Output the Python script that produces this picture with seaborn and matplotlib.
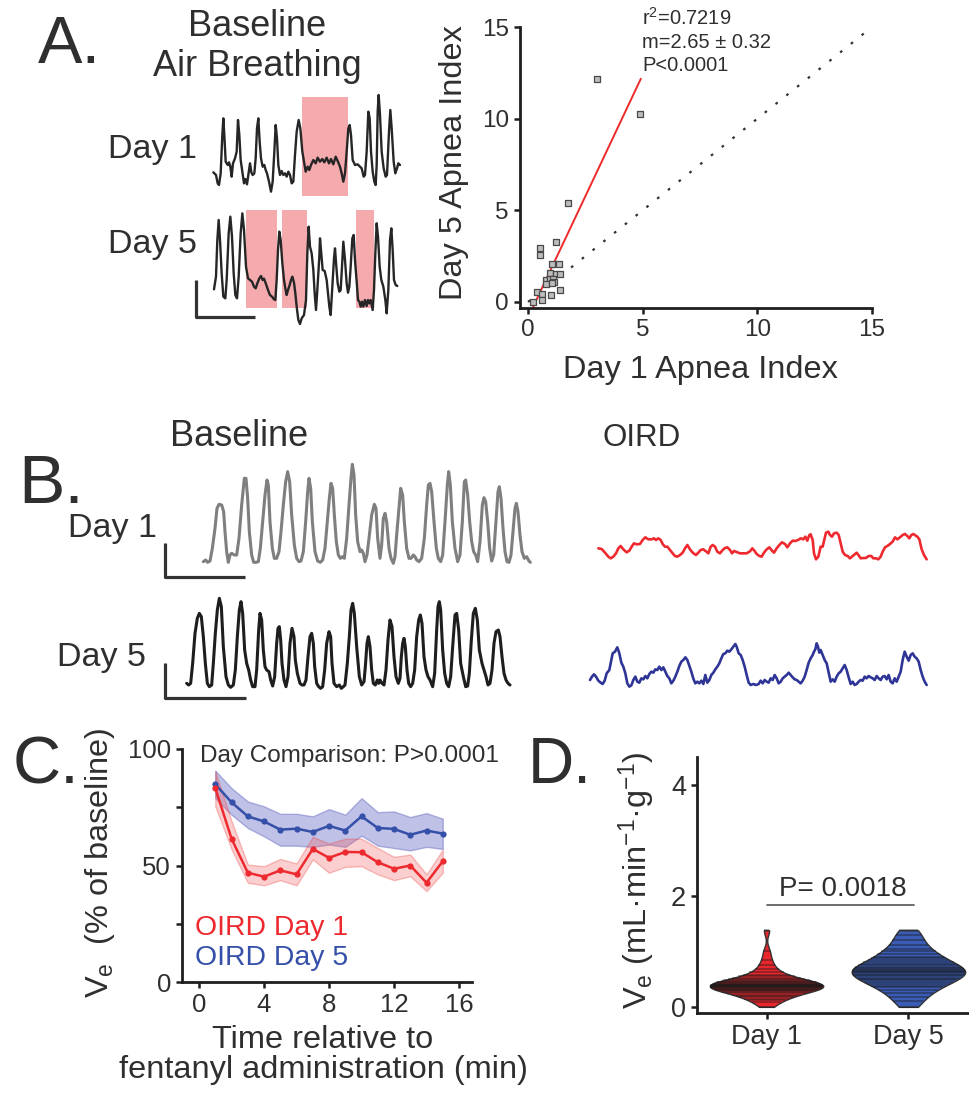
import numpy as np
import pandas as pd
import matplotlib
matplotlib.use("Agg")
import matplotlib.pyplot as plt
import seaborn as sns

# ---------------- data ----------------
# Panel A scatter (apnea index)
day1_apnea = [1.76, 1.21, 0.52, 0.52, 1.06, 1.35, 0.96, 1.21, 1.41, 0.78, 0.96, 1.10,
              1.15, 0.77, 1.03, 1.40, 1.00, 0.39, 0.61, 0.62, 0.22, 3.00, 4.88]
day5_apnea = [5.42, 3.26, 2.96, 2.56, 2.06, 2.06, 1.60, 1.53, 1.55, 1.20, 1.24, 1.27,
              1.11, 0.96, 1.05, 0.64, 0.38, 0.53, 0.42, 0.13, 0.00, 12.17, 10.24]
fit_slope = 2.65
fit_intercept = -0.86
fit_range = [0.2, 4.92]
stats_lines = ["r$^{2}$=0.7219", "m=2.65 \u00b1 0.32", "P<0.0001"]

# Panel A traces: (time sample, depth reading)
a_day1_trace = [(25,262),(33,270),(38,295),(42,300),(47,265),(52,150),(55,100),(58,150),(62,230),(68,240),(72,232),(76,245),(80,275),(84,235),(90,220),(95,200),(99,105),(103,150),(107,225),(112,260),(117,295),(121,282),(126,298),(130,270),(135,235),(139,262),(143,270),(148,265),(152,220),(156,130),(160,100),(164,170),(168,220),(173,245),(178,240),(182,255),(186,265),(192,290),(198,320),(203,290),(208,200),(212,120),(216,160),(220,240),(225,270),(230,258),(235,270),(240,265),(245,275),(250,260),(255,270),(260,295),(265,290),(270,210),(275,140),(281,105),(286,130),(292,200),(297,230),(302,260),(308,245),(313,255),(318,240),(325,225),(332,235),(338,218),(345,230),(352,222),(358,232),(365,218),(372,235),(378,222),(385,238),(392,215),(398,228),(405,245),(410,265),(415,290),(420,265),(425,200),(430,130),(434,120),(438,150),(443,225),(450,240),(458,238),(465,245),(470,250),(476,275),(480,270),(485,200),(490,80),(494,100),(498,200),(503,260),(508,290),(512,300),(515,240),(518,80),(521,30),(525,90),(530,200),(536,250),(542,275),(546,270),(552,140),(556,75),(560,130),(566,230),(571,265),(576,250),(580,235),(585,240)]
a_day1_apneas = [(290, 428)]
a_day5_trace = [(72,268),(78,230),(82,120),(86,60),(90,120),(95,220),(100,290),(106,295),(110,240),(116,100),(121,50),(126,110),(131,220),(136,285),(141,295),(146,230),(152,100),(157,40),(162,90),(168,200),(174,235),(180,240),(186,245),(192,260),(197,265),(202,250),(208,235),(213,228),(218,240),(222,236),(228,252),(234,270),(240,285),(246,290),(252,298),(256,300),(260,240),(264,150),(268,95),(272,120),(277,190),(282,240),(286,265),(290,285),(294,270),(299,255),(303,240),(307,230),(312,248),(316,280),(320,320),(325,360),(330,372),(335,355),(342,345),(348,300),(352,160),(356,80),(360,140),(365,160),(370,210),(374,280),(378,330),(382,270),(388,170),(390,115),(393,150),(398,210),(404,213),(410,240),(414,280),(418,320),(422,345),(427,260),(432,175),(435,145),(439,200),(443,250),(448,275),(452,270),(456,200),(460,125),(465,180),(470,250),(474,278),(478,260),(482,200),(487,115),(491,105),(495,180),(500,245),(504,300),(508,305),(512,320),(516,305),(520,320),(525,300),(530,318),(534,300),(538,310),(542,300),(548,330),(552,270),(556,160),(560,70),(564,110),(569,200),(574,240),(580,260),(586,300),(590,340),(595,270),(600,120),(604,85),(608,150),(612,240),(617,255),(622,258)]
a_day5_apneas = [(168, 260), (275, 350), (498, 553)]

# Panel B traces
b_day1_base = [(25,320),(32,315),(38,322),(45,318),(52,280),(60,220),(66,160),(72,148),(80,150),(86,170),(90,230),(95,290),(100,322),(105,300),(110,295),(118,300),(125,300),(132,250),(140,150),(148,70),(153,70),(158,130),(163,230),(170,300),(176,322),(183,322),(190,320),(196,280),(203,200),(210,120),(216,75),(220,90),(225,200),(232,280),(238,310),(245,310),(252,290),(258,230),(265,150),(272,80),(278,50),(284,80),(290,180),(298,270),(305,310),(312,320),(318,318),(325,290),(332,200),(338,110),(342,70),(347,100),(352,200),(360,290),(368,318),(376,322),(383,315),(390,280),(397,200),(403,130),(408,85),(413,100),(418,180),(424,260),(430,300),(436,310),(442,305),(448,310),(455,250),(462,150),(468,70),(472,28),(477,60),(482,180),(488,260),(495,290),(500,285),(505,295),(510,320),(516,300),(522,250),(530,180),(538,148),(543,160),(548,250),(555,310),(560,270),(565,190),(570,175),(575,200),(582,280),(588,310),(595,325),(600,305),(605,240),(612,160),(617,100),(623,120),(628,200),(635,280),(642,310),(648,310),(655,300),(660,305),(665,315),(672,320),(680,310),(688,250),(695,150),(700,90),(705,85),(710,110),(717,200),(724,280),(730,310),(737,320),(743,300),(750,200),(757,90),(761,50),(766,90),(772,200),(780,280),(788,320),(795,300),(802,200),(808,80),(812,75),(818,120),(824,200),(830,260),(836,290),(842,300),(848,320),(855,260),(862,150),(867,128),(872,140),(878,200),(884,280),(890,318),(896,300),(903,200),(909,110),(913,95),(918,130),(924,220),(930,290),(936,320),(942,322),(948,300),(955,220),(960,160),(964,145),(969,170),(975,240),(981,290),(988,310),(995,305),(1002,318),(1006,322)]
b_day5_base = [(20,280),(26,285),(32,280),(38,220),(45,130),(52,85),(58,70),(64,80),(70,140),(76,220),(82,280),(88,290),(95,285),(100,220),(106,130),(112,60),(118,25),(124,50),(130,170),(138,260),(145,285),(152,292),(160,285),(166,240),(172,140),(178,60),(183,35),(188,70),(194,180),(200,220),(206,240),(212,270),(218,290),(225,290),(230,240),(236,120),(240,70),(245,90),(250,180),(255,230),(260,240),(267,245),(272,270),(278,288),(284,260),(290,160),(294,115),(298,110),(302,150),(306,220),(312,270),(318,290),(324,260),(330,160),(336,115),(342,140),(346,210),(352,250),(360,280),(366,285),(372,285),(378,270),(384,200),(390,140),(395,130),(400,160),(404,230),(410,280),(416,290),(422,295),(428,290),(434,240),(440,160),(447,125),(452,140),(456,220),(462,280),(470,290),(478,285),(484,295),(490,290),(495,285),(502,220),(508,140),(513,60),(518,40),(523,70),(530,170),(538,260),(545,285),(552,275),(556,230),(561,160),(565,140),(570,170),(575,240),(580,280),(586,285),(592,270),(596,280),(600,270),(606,280),(612,285),(618,240),(624,150),(630,90),(636,110),(642,200),(648,260),(655,280),(660,265),(664,200),(668,160),(672,145),(676,170),(681,240),(686,280),(692,290),(698,280),(704,240),(710,140),(716,90),(721,75),(726,100),(732,200),(738,240),(744,260),(750,270),(758,290),(764,250),(770,120),(774,50),(778,35),(782,60),(788,180),(794,250),(800,280),(806,290),(812,260),(818,170),(825,75),(830,70),(836,120),(842,220),(850,260),(857,290),(863,288),(868,250),(874,150),(880,70),(886,55),(892,90),(898,180),(906,220),(912,240),(918,260),(924,285),(930,280),(936,240),(942,160),(948,125),(955,120),(960,140),(966,200),(972,250),(978,270),(984,280),(990,285)]
b_day1_oird = [(85,175),(95,177),(105,188),(115,200),(122,205),(130,200),(138,190),(145,175),(152,168),(160,178),(170,187),(178,182),(185,170),(192,160),(200,163),(210,162),(218,150),(226,142),(235,148),(245,148),(252,145),(258,150),(265,145),(272,150),(278,162),(285,170),(292,170),(300,180),(308,190),(315,198),(322,200),(330,195),(338,188),(345,175),(352,165),(360,178),(368,188),(378,195),(385,188),(392,180),(400,178),(408,184),(415,190),(422,170),(428,165),(435,170),(442,185),(450,190),(458,180),(465,174),(472,172),(480,180),(486,190),(492,183),(500,186),(510,190),(520,190),(530,190),(540,184),(547,175),(553,182),(560,192),(568,198),(575,200),(582,188),(590,178),(598,172),(606,182),(612,188),(620,175),(628,165),(636,157),(645,162),(652,172),(660,160),(668,152),(676,153),(684,150),(692,145),(700,148),(706,140),(712,152),(718,135),(722,133),(728,150),(732,190),(738,208),(745,200),(752,170),(758,170),(764,145),(768,128),(775,125),(780,135),(786,140),(792,130),(800,128),(806,135),(812,160),(818,185),(825,195),(833,198),(840,205),(846,200),(852,195),(860,188),(866,196),(872,205),(880,204),(888,204),(896,198),(904,198),(910,205),(918,205),(925,208),(932,200),(938,185),(945,172),(952,168),(960,162),(968,155),(975,142),(982,148),(990,142),(998,135),(1005,132),(1012,138),(1018,145),(1024,135),(1030,132),(1036,136),(1042,140),(1048,148),(1055,178),(1062,195),(1070,208)]
b_day5_oird = [(60,570),(66,560),(72,553),(78,560),(85,572),(92,578),(98,582),(104,572),(110,550),(118,540),(124,510),(128,490),(135,485),(142,472),(148,490),(154,518),(160,530),(166,550),(172,580),(178,590),(184,586),(190,570),(196,560),(202,575),(208,578),(214,565),(220,568),(226,558),(232,565),(238,552),(244,545),(250,548),(256,538),(262,540),(268,530),(274,540),(280,532),(286,545),(292,558),(298,565),(304,580),(310,572),(316,560),(322,545),(328,528),(334,515),(340,510),(346,502),(352,510),(358,528),(364,545),(370,566),(376,580),(382,575),(388,580),(394,572),(400,582),(406,555),(412,578),(418,570),(424,555),(430,548),(436,538),(442,530),(448,520),(454,505),(460,492),(466,490),(472,482),(478,485),(484,478),(490,470),(496,462),(500,470),(506,490),(512,495),(518,510),(524,530),(530,555),(536,578),(542,585),(550,582),(558,585),(566,582),(572,572),(578,580),(584,570),(590,575),(596,578),(602,565),(608,570),(614,555),(620,565),(626,580),(632,575),(638,565),(644,560),(650,555),(656,548),(662,555),(668,562),(674,568),(680,570),(686,575),(692,580),(698,572),(704,560),(710,540),(716,518),(722,505),(728,495),(732,485),(736,478),(740,460),(744,470),(748,488),(752,480),(758,495),(764,510),(770,520),(776,548),(782,575),(788,568),(794,575),(800,560),(806,550),(812,545),(818,535),(824,525),(830,540),(836,562),(842,582),(848,575),(854,585),(860,582),(866,575),(872,570),(878,572),(884,560),(890,565),(896,558),(902,562),(908,565),(914,570),(920,558),(926,565),(932,570),(938,560),(944,558),(950,568),(956,555),(962,575),(968,580),(974,565),(980,575),(986,560),(992,545),(998,510),(1004,485),(1010,500),(1016,512),(1022,495),(1028,490),(1034,500),(1040,505),(1046,515),(1052,540),(1058,560),(1064,575),(1070,585)]

# Panel C: Ve (% of baseline) vs time
minutes = list(range(1, 16))
oird_day1_mean = [83.2, 61.5, 46.9, 45.2, 47.9, 46.2, 57.1, 53.3, 55.8, 55.7, 51.4, 48.6, 50.0, 42.6, 51.8]
oird_day1_hi = [90.3, 69.0, 50.4, 49.7, 52.8, 50.9, 62.3, 59.4, 61.5, 61.5, 57.5, 53.7, 54.7, 46.2, 56.8]
oird_day1_lo = [75.4, 57.0, 42.6, 41.5, 43.7, 41.5, 52.6, 46.9, 49.4, 49.7, 46.2, 43.7, 45.4, 39.0, 46.9]
oird_day5_mean = [84.9, 77.1, 71.1, 68.9, 65.4, 65.8, 64.4, 67.0, 65.0, 71.1, 66.1, 65.7, 63.2, 65.0, 63.7]
oird_day5_hi = [90.7, 83.2, 77.5, 75.4, 72.2, 72.2, 71.1, 74.2, 71.8, 78.9, 72.9, 73.2, 70.8, 72.5, 70.1]
oird_day5_lo = [78.9, 71.8, 66.1, 62.5, 58.5, 58.5, 58.0, 59.0, 58.0, 62.8, 58.5, 57.5, 56.5, 58.0, 57.1]

# Panel D: Ve (mL/min/g) per animal/epoch
ve_day1 = [0.00, 0.08, 0.12, 0.15, 0.18, 0.20, 0.22, 0.25, 0.27, 0.28, 0.30, 0.31, 0.32, 0.33,
           0.34, 0.35, 0.35, 0.36, 0.37, 0.38, 0.38, 0.39, 0.40, 0.40, 0.41, 0.42, 0.43, 0.44,
           0.45, 0.47, 0.48, 0.50, 0.52, 0.55, 0.58, 0.62, 0.68, 0.75, 0.85, 1.00, 1.38]
ve_day5 = [0.00, 0.10, 0.18, 0.25, 0.30, 0.35, 0.38, 0.42, 0.45, 0.48, 0.50, 0.52, 0.55, 0.57,
           0.60, 0.62, 0.63, 0.65, 0.66, 0.68, 0.70, 0.72, 0.75, 0.78, 0.80, 0.85, 0.88, 0.90,
           0.95, 1.00, 1.05, 1.12, 1.20, 1.30, 1.38]
day_labels = ["Day 1", "Day 5"]

# ---------------- style ----------------
sns.set_style("ticks")
plt.rcParams["font.family"] = ["Liberation Sans", "DejaVu Sans"]
plt.rcParams["mathtext.default"] = "regular"
TXT = "#2f2f2f"
AX = "#1e1e1e"
RED = "#ec2a30"
BLUE_C = "#3550a8"
plt.rcParams.update({"text.color": TXT, "axes.labelcolor": TXT,
                     "xtick.color": AX, "ytick.color": AX,
                     "xtick.labelcolor": TXT, "ytick.labelcolor": TXT})

W, H = 969, 1093
fig = plt.figure(figsize=(W / 100, H / 100), dpi=100)


def box(x0, y0, x1, y1):
    return [x0 / W, 1 - y1 / H, (x1 - x0) / W, (y1 - y0) / H]


def ftext(x, y, s, **kw):
    kw.setdefault("va", "baseline")
    return fig.text(x / W, 1 - y / H, s, **kw)


def style_axes(ax, size):
    for side in ("top", "right"):
        ax.spines[side].set_visible(False)
    for side in ("left", "bottom"):
        ax.spines[side].set_linewidth(2.0)
        ax.spines[side].set_color(AX)
    ax.tick_params(labelsize=size, width=1.8, length=4, pad=4)
    ax.tick_params(which="minor", width=1.8, length=4)


def trace_axes(rect, xmax, ymax):
    ax = fig.add_axes(box(*rect))
    ax.set_xlim(0, xmax)
    ax.set_ylim(ymax, 0)
    ax.axis("off")
    return ax


def draw_trace(ax, pts, color, lw):
    arr = np.array(pts, dtype=float)
    sns.lineplot(x=arr[:, 0], y=arr[:, 1], sort=False, estimator=None, ax=ax,
                 color=color, linewidth=lw)


# ---------------- Panel A: traces ----------------
ftext(38, 63, "A.", fontsize=48)
ftext(257, 36, "Baseline", fontsize=26, ha="center")
ftext(257, 76, "Air Breathing", fontsize=26, ha="center")
ftext(108, 158, "Day 1", fontsize=24.5)
ftext(108, 253, "Day 5", fontsize=24.5)

PINK = "#f5aaae"
ax_a1 = trace_axes((205, 85, 405, 200), 600, 345)
for t0, t1 in a_day1_apneas:
    ax_a1.fill_between([t0, t1], 35, 332, color=PINK, linewidth=0, zorder=0)
draw_trace(ax_a1, a_day1_trace, "#262626", 1.7)

ax_a5 = trace_axes((190, 200, 405, 330), 645, 390)
for t0, t1 in a_day5_apneas:
    ax_a5.fill_between([t0, t1], 30, 325, color=PINK, linewidth=0, zorder=0)
draw_trace(ax_a5, a_day5_trace, "#262626", 1.7)
ax_a5.plot([18, 18, 195], [240, 352, 352], color="#333333", lw=2.3, clip_on=False,
           solid_capstyle="butt")

# ---------------- Panel A: scatter ----------------
ax_s = fig.add_axes(box(520, 27, 872, 308))
sns.scatterplot(x=day1_apnea, y=day5_apnea, ax=ax_s, marker="s", s=22,
                color="#bdbdbd", edgecolor="#4a4a4a", linewidth=0.9, zorder=3)
ident = np.array([0.0, 14.7])
sns.lineplot(x=ident, y=ident, ax=ax_s, color="#333333", linewidth=1.6,
             linestyle=(0, (1.2, 5)))
fx = np.array(fit_range)
sns.lineplot(x=fx, y=fit_slope * fx + fit_intercept, ax=ax_s, color="#ee2a2a",
             linewidth=1.4)
ax_s.set_xlim(-0.35, 15)
ax_s.set_ylim(-0.33, 15)
ax_s.set_xticks([0, 5, 10, 15])
ax_s.set_yticks([0, 5, 10, 15])
style_axes(ax_s, 17.5)
for i, line in enumerate(stats_lines):
    ftext(642, 25 + 23 * i, line, fontsize=14.5)
ftext(700, 378, "Day 1 Apnea Index", fontsize=23.4, ha="center")
ftext(462, 163, "Day 5 Apnea Index", fontsize=23.4, ha="center", rotation=90,
      rotation_mode="anchor")

# ---------------- Panel B ----------------
ftext(18, 503, "B.", fontsize=50)
ftext(170, 446, "Baseline", fontsize=26)
ftext(603, 446, "OIRD", fontsize=22.5)
ftext(68, 537, "Day 1", fontsize=24.5)
ftext(57, 666, "Day 5", fontsize=24.5)

ax_b1 = trace_axes((195, 455, 540, 575), 1035, 360)
draw_trace(ax_b1, b_day1_base, "#7f7f7f", 2.2)
ax_b1.plot([-90, -90, 150], [264, 366, 366], color="#333333", lw=2.3, clip_on=False,
           solid_capstyle="butt")

ax_b5 = trace_axes((180, 590, 520, 700), 1020, 330)
draw_trace(ax_b5, b_day5_base, "#1e1e1e", 2.2)
ax_b5.plot([-45, -45, 198], [219, 324, 324], color="#333333", lw=2.3, clip_on=False,
           solid_capstyle="butt")

ax_bo = trace_axes((570, 490, 950, 700), 1140, 630)
draw_trace(ax_bo, b_day1_oird, "#ee2a30", 1.9)
draw_trace(ax_bo, b_day5_oird, "#2f3596", 1.9)

# ---------------- Panel C ----------------
ftext(13, 783, "C.", fontsize=48)
ax_c = fig.add_axes(box(182, 749, 472, 982))
ax_c.fill_between(minutes, oird_day5_lo, oird_day5_hi, facecolor="#5a5ec0", alpha=0.38,
                  edgecolor="#4d52b8", linewidth=1.0)
ax_c.fill_between(minutes, oird_day1_lo, oird_day1_hi, facecolor="#f26060", alpha=0.30,
                  edgecolor="#ea3a3a", linewidth=1.0)
sns.lineplot(x=minutes, y=oird_day5_mean, ax=ax_c, color=BLUE_C, linewidth=1.8,
             marker="o", markersize=4.5, markeredgewidth=0)
sns.lineplot(x=minutes, y=oird_day1_mean, ax=ax_c, color=RED, linewidth=1.8,
             marker="o", markersize=4.5, markeredgewidth=0)
ax_c.set_xlim(-1.05, 16.8)
ax_c.set_ylim(0, 100)
ax_c.set_xticks([0, 4, 8, 12, 16])
ax_c.set_yticks([0, 50, 100])
ax_c.set_yticks([25, 75], minor=True)
style_axes(ax_c, 18.5)
ftext(200, 762, "Day Comparison: P>0.0001", fontsize=17.5)
ftext(195, 935, "OIRD Day 1", fontsize=20.4, color=RED)
ftext(195, 965, "OIRD Day 5", fontsize=20.4, color=BLUE_C)
ftext(323, 1048, "Time relative to", fontsize=23.4, ha="center")
ftext(323, 1078, "fentanyl administration (min)", fontsize=23.4, ha="center")
ftext(108, 863, "V$_{e}$  (% of baseline)", fontsize=23.4, ha="center", rotation=90,
      rotation_mode="anchor")

# ---------------- Panel D ----------------
ftext(528, 783, "D.", fontsize=46)
ax_d = fig.add_axes(box(697, 757, 968, 1013))
df = pd.DataFrame({"day": [day_labels[0]] * len(ve_day1) + [day_labels[1]] * len(ve_day5),
                   "ve": ve_day1 + ve_day5})
sns.violinplot(data=df, x="day", y="ve", hue="day", palette=["#e8262c", "#3a5cb4"],
               inner="stick", cut=0, width=0.8, density_norm="width", bw_adjust=0.8,
               linewidth=1.0, linecolor="#333333", legend=False, saturation=1,
               inner_kws=dict(color="#1a1a1a", alpha=0.5, linewidth=1.1), ax=ax_d)
ax_d.set_xlim(-0.49, 1.42)
ax_d.set_ylim(-0.11, 4.5)
ax_d.set_yticks([0, 2, 4])
ax_d.set_xlabel("")
ax_d.set_ylabel("")
style_axes(ax_d, 19.5)
ax_d.plot([0.0, 1.04], [1.84, 1.84], color="#555555", lw=1.2)
ftext(843, 896, "P= 0.0018", fontsize=20, ha="center")
ftext(647, 880, "V$_{e}$ (mL\u00b7min$^{-1}$\u00b7g$^{-1}$)", fontsize=23.4, ha="center",
      rotation=90, rotation_mode="anchor")

fig.savefig("out.png", dpi=100)
